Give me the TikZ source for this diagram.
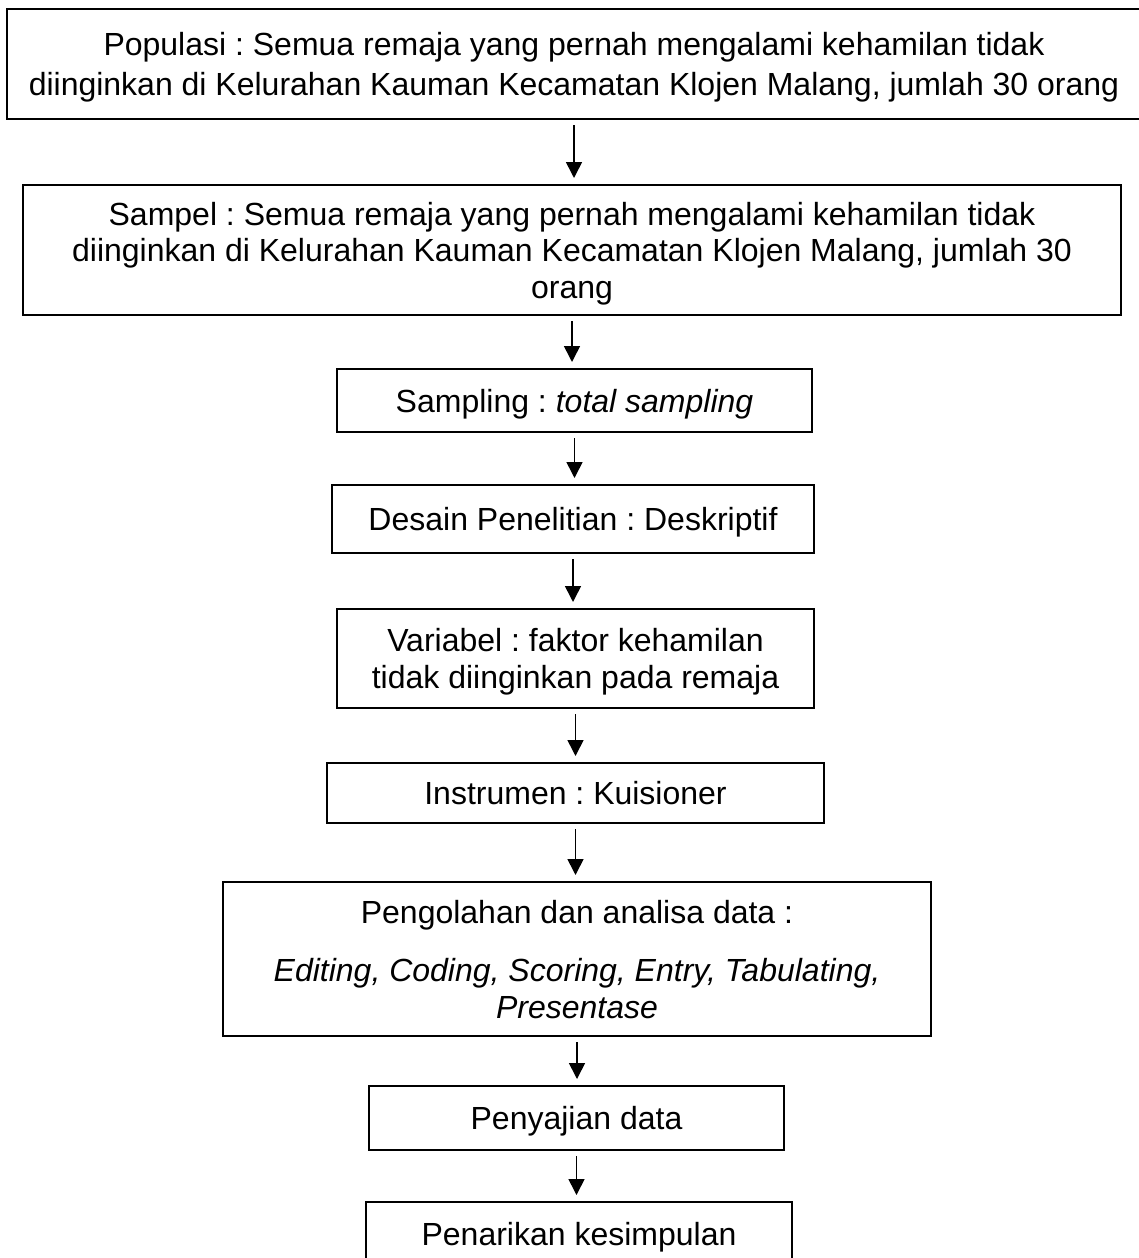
\documentclass[tikz,border=0pt]{standalone}
\usepackage{fontspec}
\setmainfont{Liberation Sans}
\frenchspacing
\usepackage{tikz}
\usetikzlibrary{arrows.meta,calc,positioning}
\tikzstyle{flow}=[
  x=0.5pt,y=-0.5pt,font=\fontsize{16pt}{18.25pt}\selectfont
]
\tikzstyle{stepbox}=[
  draw,rectangle,line width=1pt,inner sep=0pt,align=center,text depth=0pt
]
\tikzstyle{down}=[
  -{Triangle[width=8pt,length=8pt]},line width=0.8pt,shorten <=2.5pt,shorten >=3pt
]

\begin{document}
\begin{tikzpicture}[flow]
    \useasboundingbox (0,0) rectangle (1139,1258);
      \node (pop) at (574,64) [stepbox,minimum width=567pt,minimum height=55pt]
        {Populasi : Semua remaja yang pernah mengalami kehamilan tidak\\[1.75pt]
         diinginkan di Kelurahan Kauman Kecamatan Klojen Malang, jumlah 30 orang};
      \node (samp) at (572,250) [stepbox,minimum width=549pt,minimum height=65pt]
        {Sampel : Semua remaja yang pernah mengalami kehamilan tidak\\
         diinginkan di Kelurahan Kauman Kecamatan Klojen Malang, jumlah 30\\
         orang};
      \node (teknik) at (574.5,400.5) [stepbox,minimum width=237.5pt,minimum height=31.5pt]
        {Sampling : \textit{total sampling}};
      \node (desain) at (573,519) [stepbox,minimum width=241pt,minimum height=34pt]
        {Desain Penelitian : Deskriptif};
      \node (var) at (575.5,658.5) [stepbox,minimum width=238.5pt,minimum height=49.5pt]
        {Variabel : faktor kehamilan\\ tidak diinginkan pada remaja};
      \node (instr) at (575.5,793) [stepbox,minimum width=248.5pt,minimum height=30pt]
        {Instrumen : Kuisioner};
      \node (olah) at (577,959) [stepbox,minimum width=354pt,minimum height=77pt]
        {Pengolahan dan analisa data :\\[11pt]
         \textit{Editing, Coding, Scoring, Entry, Tabulating,}\\
         \textit{Presentase}};
      \node (saji) at (576.5,1118) [stepbox,minimum width=207.5pt,minimum height=32pt]
        {Penyajian data};
      \node (tarik) at (579,1234) [stepbox,minimum width=213pt,minimum height=32pt]
        {Penarikan kesimpulan};
      % arrows between the steps
      \draw [down] (pop.south) -- (pop.south |- samp.north);
      \draw [down] (samp.south) -- (samp.south |- teknik.north);
      \draw [down] (teknik.south) -- (teknik.south |- desain.north);
      \draw [down] (desain.south) -- (desain.south |- var.north);
      \draw [down] (var.south) -- (var.south |- instr.north);
      \draw [down] (instr.south) -- (instr.south |- olah.north);
      \draw [down] (olah.south) -- (olah.south |- saji.north);
      \draw [down] (saji.south) -- (saji.south |- tarik.north);
\end{tikzpicture}
\end{document}
